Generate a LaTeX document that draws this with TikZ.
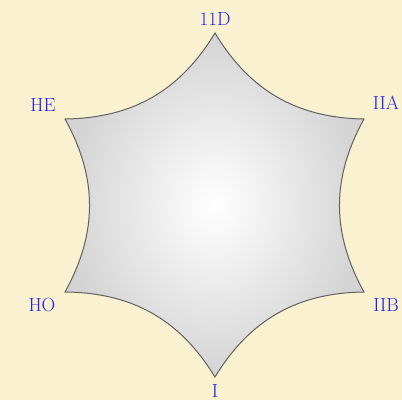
\documentclass[tikz,border=0pt]{standalone}
\usetikzlibrary{positioning}
\definecolor{parchment}{RGB}{249,241,207}
\definecolor{labelblue}{RGB}{32,32,238}

\begin{document}
\begin{tikzpicture}[x=1pt,y=1pt,lab/.style={text=labelblue,inner sep=0pt,
  font=\fontsize{19}{19}\selectfont},star/.style={draw=black!62,line width=1pt,
  shading=radial,inner color=white,outer color=black!17}]
\fill[parchment] (0,0) rectangle (402,400);
% corners of the hexagon
\coordinate (top) at (215,367);
\coordinate (upleft) at (65,281);
\coordinate (lowleft) at (65,108);
\coordinate (bottom) at (215,23);
\coordinate (lowright) at (364,108);
\coordinate (upright) at (364,281);
\path[star] (top) to[bend left=29] (upleft) to[bend left=29] (lowleft)
  to[bend left=29] (bottom) to[bend left=29] (lowright)
  to[bend left=29] (upright) to[bend left=29] (top) -- cycle;
\node[lab] (mth) at (215,381) {11D};
\node[lab] (he) at (43,295) {HE};
\node[lab] (iia) at (386,297) {IIA};
\node[lab] (iib) at (386,95) {IIB};
\node[lab] (ho) at (42,95) {HO};
\node[lab] (ti) at (215,9) {I};
\end{tikzpicture}
\end{document}
